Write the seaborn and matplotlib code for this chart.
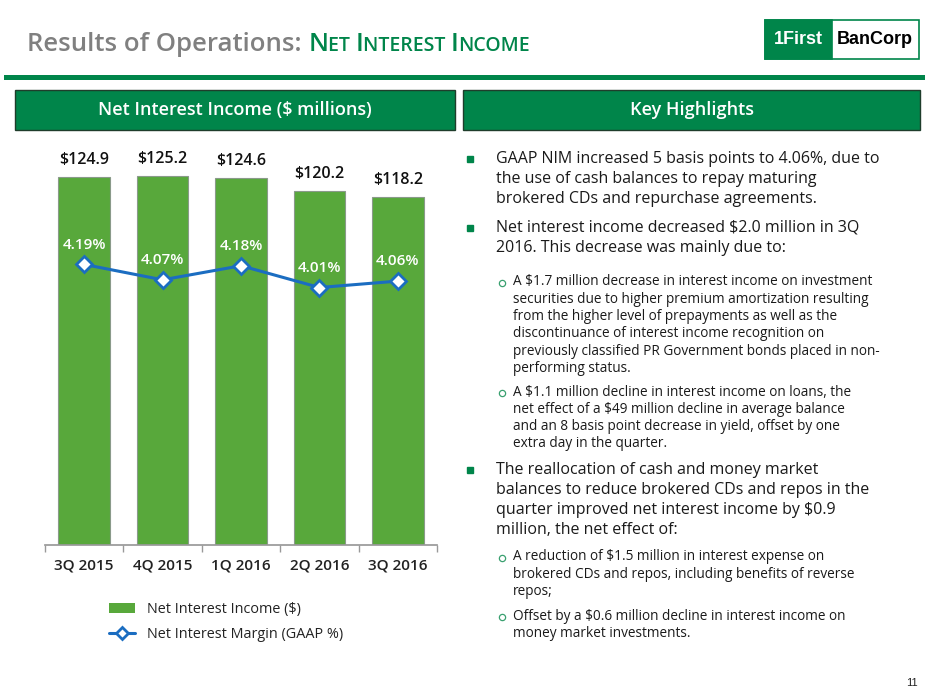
import numpy as np
import pandas as pd
import matplotlib
matplotlib.use("Agg")
import matplotlib.pyplot as plt
from matplotlib.patches import Rectangle, Patch
from matplotlib.lines import Line2D
import seaborn as sns

#---data---
quarters = ["3Q 2015", "4Q 2015", "1Q 2016", "2Q 2016", "3Q 2016"]
nii = [124.9, 125.2, 124.6, 120.2, 118.2]
nim = [4.19, 4.07, 4.18, 4.01, 4.06]

bullets = [
    (0, ["GAAP NIM increased 5 basis points to 4.06%, due to",
         "the use of cash balances to repay maturing",
         "brokered CDs and repurchase agreements."]),
    (0, ["Net interest income decreased $2.0 million in 3Q",
         "2016. This decrease was mainly due to:"]),
    (1, ["A $1.7 million decrease in interest income on investment",
         "securities due to higher premium amortization resulting",
         "from the higher level of prepayments as well as the",
         "discontinuance of interest income recognition on",
         "previously classified PR Government bonds placed in non-",
         "performing status."]),
    (1, ["A $1.1 million decline in interest income on loans, the",
         "net effect of a $49 million decline in average balance",
         "and an 8 basis point decrease in yield, offset by one",
         "extra day in the quarter."]),
    (0, ["The reallocation of cash and money market",
         "balances to reduce brokered CDs and repos in the",
         "quarter improved net interest income by $0.9",
         "million, the net effect of:"]),
    (1, ["A reduction of $1.5 million in interest expense on",
         "brokered CDs and repos, including benefits of reverse",
         "repos;"]),
    (1, ["Offset by a $0.6 million decline in interest income on",
         "money market investments."]),
]
bullet_tops = [159, 228, 282, 392, 470, 557, 616]

GREEN = "#00854A"
BAR = "#58A83B"
BLUE = "#1B6DC1"

sns.set_theme(style="white")
plt.rcParams["font.family"] = ["Open Sans", "DejaVu Sans"]

W, H = 933, 700
fig = plt.figure(figsize=(W / 100, H / 100), dpi=100)

# background axes in pixel coords
bg = fig.add_axes([0, 0, 1, 1])
bg.set_xlim(0, W)
bg.set_ylim(H, 0)
bg.axis("off")

# title, with small caps done by hand
fig.canvas.draw()
r = fig.canvas.get_renderer()
x = 27
pieces = [("Results of Operations: ", 18.5, "#808080"),
          ("N", 18.5, GREEN), ("ET ", 14.0, GREEN),
          ("I", 18.5, GREEN), ("NTEREST ", 14.0, GREEN),
          ("I", 18.5, GREEN), ("NCOME", 14.0, GREEN)]
for s, fs, c in pieces:
    t = bg.text(x, 51, s, fontsize=fs, color=c, fontweight="semibold",
                va="baseline", ha="left", family="Open Sans")
    bb = t.get_window_extent(renderer=r)
    x += bb.width

# logo
bg.add_patch(Rectangle((765, 20), 154, 39, facecolor="white", edgecolor=GREEN, lw=1.2))
bg.add_patch(Rectangle((765, 20), 67, 39, facecolor=GREEN, edgecolor=GREEN, lw=1.2))
bg.text(798, 40, "1First", color="white", fontsize=13, fontweight="bold",
        ha="center", va="center", family="Liberation Sans")
bg.text(875, 40, "BanCorp", color="black", fontsize=13, fontweight="bold",
        ha="center", va="center", family="Liberation Sans")

# green rule
bg.add_patch(Rectangle((4, 75), 921, 5, facecolor=GREEN, edgecolor="none"))

# header boxes
for x0, x1, label in [(15, 455, "Net Interest Income ($ millions)"), (463, 920, "Key Highlights")]:
    bg.add_patch(Rectangle((x0, 90), x1 - x0, 40, facecolor=GREEN, edgecolor="#1f3d2b", lw=1))
    bg.text((x0 + x1) / 2, 110, label, color="white", fontsize=13, fontweight="semibold",
            ha="center", va="center")

# highlights text
for (lvl, lines), top in zip(bullets, bullet_tops):
    if lvl == 0:
        bg.plot(470, top, marker="s", ms=4.2, color=GREEN)
        for i, ln in enumerate(lines):
            bg.text(496, top + i * 20, ln, fontsize=11.5, color="#1a1a1a", va="center", ha="left")
    else:
        bg.plot(502, top + 1, marker="o", ms=4.5, mfc="white", mec="#3aa070", mew=0.9)
        for i, ln in enumerate(lines):
            bg.text(513, top + i * 17.3, ln, fontsize=9.85, color="#1a1a1a", va="center", ha="left")

bg.text(912, 683, "11", fontsize=8, color="#222222", ha="center", va="center",
        family="Liberation Sans")

# chart
ax = fig.add_axes([45 / W, (H - 545) / H, 392 / W, (545 - 132.5) / H])
df = pd.DataFrame({"quarter": quarters, "nii": nii, "nim": nim})
sns.barplot(data=df, x="quarter", y="nii", color=BAR, width=0.66,
            edgecolor="#8a9a8a", linewidth=0.8, saturation=1, ax=ax)
ax.set_ylim(0, 140)
ax.set_xlim(-0.5, len(quarters) - 0.5)
ax.set_xlabel("")
ax.set_ylabel("")
ax.set_yticks([])
for s in ["top", "right", "left"]:
    ax.spines[s].set_visible(False)
ax.spines["bottom"].set_color("#999999")
ax.set_xticks(np.arange(len(quarters)))
ax.set_xticklabels(quarters, fontsize=11, fontweight="semibold", color="#222222")
ax.set_xticks(np.arange(-0.5, len(quarters)), minor=True)
ax.tick_params(axis="x", which="major", length=0, pad=10)
ax.tick_params(axis="x", which="minor", length=5, color="#999999", bottom=True)
for i, v in enumerate(nii):
    ax.text(i, v + 3, f"${v:.1f}", ha="center", va="bottom", fontsize=11.5,
            fontweight="semibold", color="#111111")

ax2 = ax.twinx()
sns.lineplot(x=np.arange(len(quarters)), y=nim, ax=ax2, color=BLUE, lw=2.2,
             marker="D", ms=8, mfc="white", mec=BLUE, mew=2)
ax2.set_ylim(2.0, 5.22)
ax2.axis("off")
for i, v in enumerate(nim):
    ax2.text(i, v + 0.1, f"{v:.2f}%", ha="center", va="bottom", fontsize=11,
             fontweight="semibold", color="white")

handles = [Patch(facecolor=BAR, edgecolor="none"),
           Line2D([0], [0], color=BLUE, lw=2.2, marker="D", ms=6, mfc="white", mec=BLUE, mew=2)]
bg.legend(handles, ["Net Interest Income ($)", "Net Interest Margin (GAAP %)"],
          loc="upper left", bbox_to_anchor=(96 / W, 1 - 589 / H), frameon=False,
          fontsize=10.4, handlelength=1.8, labelspacing=0.7, handletextpad=0.8,
          labelcolor="#222222")

fig.savefig("out.png", dpi=100)
